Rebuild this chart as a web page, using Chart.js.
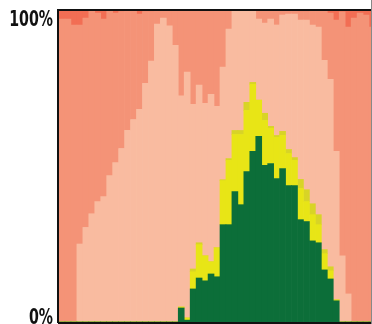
<!DOCTYPE html>
<html>
<head>
<meta charset="utf-8">
<script src="https://cdn.jsdelivr.net/npm/chart.js@4"></script>
<style>
  html, body { margin: 0; padding: 0; background: #fff; overflow: hidden; }
  #wrap { width: 372px; height: 324px; overflow: hidden; box-sizing: border-box; border-right: 1px solid #888; }
  canvas { display: block; }
</style>
</head>
<body>
<div id="wrap"><canvas id="chart" width="375" height="324"></canvas></div>
<script>
// Share of each group per column, in percent (bottom to top)
const green = [0,0,0,0,0,0,0,0,0,0, 0,0,0,0,0,0,0,0,0,0,
  4.5,0.6,10.6,14.1,13.2,15.4,14.5,31.2,31.2,41.8,37.6,48.2,54.7,59.5,50.2,50.8,46.0,49.2,43.7,43.7,
  32.8,32.2,26.0,25.4,16.7,13.8,6.8,0,0,0,0,0,0];
const yellow = [0,0,0,0,0,0,0,0,0,0, 0,0,0,0,0,0,0,0,0,0,
  0.3,0.7,5.5,10.7,8.0,3.9,9.3,14.1,20.6,18.3,22.5,19.6,21.5,11.6,14.4,11.3,13.2,10.6,10.3,8.1,
  10.0,6.4,8.4,5.8,5.2,2.6,0.3,0,0,0,0,0,0];
const darkYellow = [0,0,0,0,0,0,0,0,0,0, 0,0,0,0,0,0,0,0,0,0,
  0,0,0.9,0.6,0,0,0,0.3,0.6,1.3,1.3,2.6,0.6,0,2.3,0.6,0.6,1.3,1.3,0.9,
  2.9,3.8,3.5,3.2,1.3,1.3,0,0,0,0,0,0,0];
const lightSalmon = [0,0,0,25.0,30.3,34.7,38.6,40.2,46.9,51.1, 55.6,61.4,64.9,68.2,76.5,83.6,95.5,97.4,94.9,88.7,
  67.7,78.8,52.8,50.5,48.9,53.7,45.3,36.1,41.5,38.6,38.6,29.6,22.8,26.0,28.9,34.4,35.4,37.3,43.4,46.0,
  51.1,54.4,57.3,60.1,60.7,60.1,47.6,21.2,9.0,0,0,0,0];
const salmon = [97.1,97.1,95.2,70.2,67.1,65.3,60.4,56.9,52.8,47.9, 43.9,38.6,35.1,30.5,23.0,15.9,4.5,2.6,5.1,11.3,
  27.5,19.9,30.2,24.1,29.9,27.0,30.9,18.3,6.1,0,0,0,0.4,2.9,4.2,2.9,4.8,1.6,1.3,1.3,
  2.7,2.7,4.8,5.5,16.1,21.2,42.1,78.2,85.5,97.4,99.0,98.4,94.5];
const red = [2.9,2.9,4.8,4.8,2.6,0,1.0,2.9,0.3,1.0, 0.5,0,0,1.3,0.5,0.5,0,0,0,0,
  0,0,0,0,0,0,0,0,0,0,0,0,0,0,0,0,0,0,0,0,
  0.5,0.5,0,0,0,1.0,3.2,0.6,5.5,2.6,1.0,1.6,5.5];
const columns = green.map((_, i) => String(i + 1));
const yTicks = [0, 100];
const yTickLabels = ['0%', '100%'];

// Black frame round the plot area, plus narrow bold y labels
// (no condensed bold font here, so the text is squeezed sideways)
const framePlugin = {
  id: 'frame',
  afterDatasetsDraw(chart) {
    const { ctx, chartArea: a } = chart;
    const y = chart.scales.y;
    ctx.save();
    ctx.strokeStyle = '#111';
    ctx.lineWidth = 2;
    ctx.beginPath();
    ctx.moveTo(a.left - 1, a.bottom + 1);
    ctx.lineTo(a.left - 1, a.top);
    ctx.lineTo(a.right, a.top);
    ctx.moveTo(a.left - 1, a.bottom + 1);
    ctx.lineTo(a.right, a.bottom + 1);
    ctx.stroke();

    ctx.fillStyle = '#111';
    ctx.font = "bold 21px 'DejaVu Sans Condensed', 'DejaVu Sans', sans-serif";
    ctx.textAlign = 'right';
    ctx.textBaseline = 'alphabetic';
    yTicks.forEach((v, i) => {
      // top label hangs below its tick, bottom label sits just under it
      const py = y.getPixelForValue(v) + (v === 100 ? 16 : 2);
      ctx.save();
      ctx.translate(a.left - 6, py);
      ctx.scale(0.75, 1);
      ctx.fillText(yTickLabels[i], 0, 0);
      ctx.restore();
    });
    ctx.restore();
  }
};

function layer(label, data, color) {
  return { label, data, backgroundColor: color, borderWidth: 0,
    barPercentage: 1, categoryPercentage: 1 };
}

new Chart(document.getElementById('chart'), {
  type: 'bar',
  data: {
    labels: columns,
    datasets: [
      layer('green', green, '#0c6e39'),
      layer('yellow', yellow, '#e8e516'),
      layer('dark yellow', darkYellow, '#d8d426'),
      layer('light salmon', lightSalmon, '#f9bba0'),
      layer('salmon', salmon, '#f49377'),
      layer('red', red, '#f26e54')
    ]
  },
  options: {
    responsive: false,
    animation: false,
    devicePixelRatio: 1,
    layout: { padding: { left: 0, right: 0, top: 10, bottom: 2 } },
    plugins: { legend: { display: false }, tooltip: { enabled: false } },
    scales: {
      x: { stacked: true, display: false },
      y: {
        stacked: true,
        min: 0,
        max: 100,
        afterFit: s => { s.width = 59; s.paddingTop = 0; s.paddingBottom = 0; },
        grid: { display: false, drawTicks: false },
        border: { display: false },
        ticks: { display: false }
      }
    }
  },
  plugins: [framePlugin]
});
</script>
</body>
</html>
